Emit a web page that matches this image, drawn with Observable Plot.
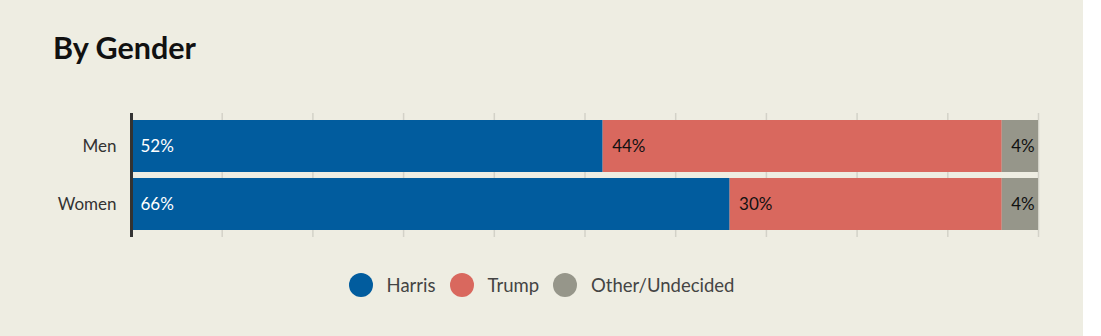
<!DOCTYPE html>
<html>
<head>
<meta charset="utf-8">
<script src="https://cdn.jsdelivr.net/npm/d3@7"></script>
<script src="https://cdn.jsdelivr.net/npm/@observablehq/plot@0.6"></script>
<style>
  html, body { margin: 0; padding: 0; background: #ffffff; }
  #wrap { width: 1083px; height: 336px; background: #eeede2; position: relative; overflow: hidden; font-family: Lato, "Noto Sans", sans-serif; }
  h2 { position: absolute; left: 53px; top: 29px; margin: 0; font-size: 30.5px; font-weight: 700; color: #111; line-height: 1.2; }
  #chart { position: absolute; left: 0; top: 100px; }
  #legend { position: absolute; left: 0; width: 1083px; top: 273px; display: flex; justify-content: center; align-items: center; font-size: 18.5px; color: #444; }
  .item { display: flex; align-items: center; margin: 0 7px; }
  .sw { width: 24px; height: 24px; border-radius: 50%; margin-right: 14px; }
</style>
</head>
<body>
<div id="wrap">
  <h2>By Gender</h2>
  <div id="chart"></div>
  <div id="legend"></div>
</div>
<script>
const groups = ["Men", "Women"];
const parties = ["Harris", "Trump", "Other/Undecided"];
const harris = [52, 66];
const trump = [44, 30];
const other = [4, 4];
const colors = ["#015c9e", "#d9685e", "#96968a"];
const labelColors = ["#ffffff", "#111111", "#111111"];
const gridTicks = [0, 10, 20, 30, 40, 50, 60, 70, 80, 90, 100];

const series = [harris, trump, other];
const data = [];
groups.forEach((g, i) => {
  parties.forEach((p, j) => {
    data.push({group: g, party: p, value: series[j][i], label: series[j][i] + "%"});
  });
});

const chart = Plot.plot({
  width: 1083,
  height: 150,
  marginLeft: 131,
  marginRight: 45,
  marginTop: 13,
  marginBottom: 13,
  style: {background: "transparent", fontFamily: "Lato, 'Noto Sans', sans-serif"},
  x: {domain: [0, 100], axis: null},
  y: {domain: groups, paddingInner: 0.1034, paddingOuter: 0.12, axis: null},
  color: {domain: parties, range: colors},
  marks: [
    Plot.ruleX(gridTicks, {stroke: "#d3d2c8", strokeWidth: 1.5}),
    Plot.barX(data, Plot.stackX({x: "value", y: "group", z: "party", fill: "party", order: parties})),
    Plot.text(data, Plot.stackX1({
      x: "value", y: "group", z: "party", order: parties,
      text: "label", textAnchor: "start", dx: 9, fontSize: 17,
      fill: d => labelColors[parties.indexOf(d.party)]
    })),
    Plot.ruleX([0], {stroke: "#333333", strokeWidth: 3}),
    Plot.axisY({tickSize: 0, tickPadding: 15, fontSize: 17, color: "#333", label: null})
  ]
});
document.getElementById("chart").appendChild(chart);

const legend = document.getElementById("legend");
parties.forEach((p, i) => {
  const it = document.createElement("div");
  it.className = "item";
  const sw = document.createElement("span");
  sw.className = "sw";
  sw.style.background = colors[i];
  const t = document.createElement("span");
  t.textContent = p;
  it.appendChild(sw);
  it.appendChild(t);
  legend.appendChild(it);
});
</script>
</body>
</html>
